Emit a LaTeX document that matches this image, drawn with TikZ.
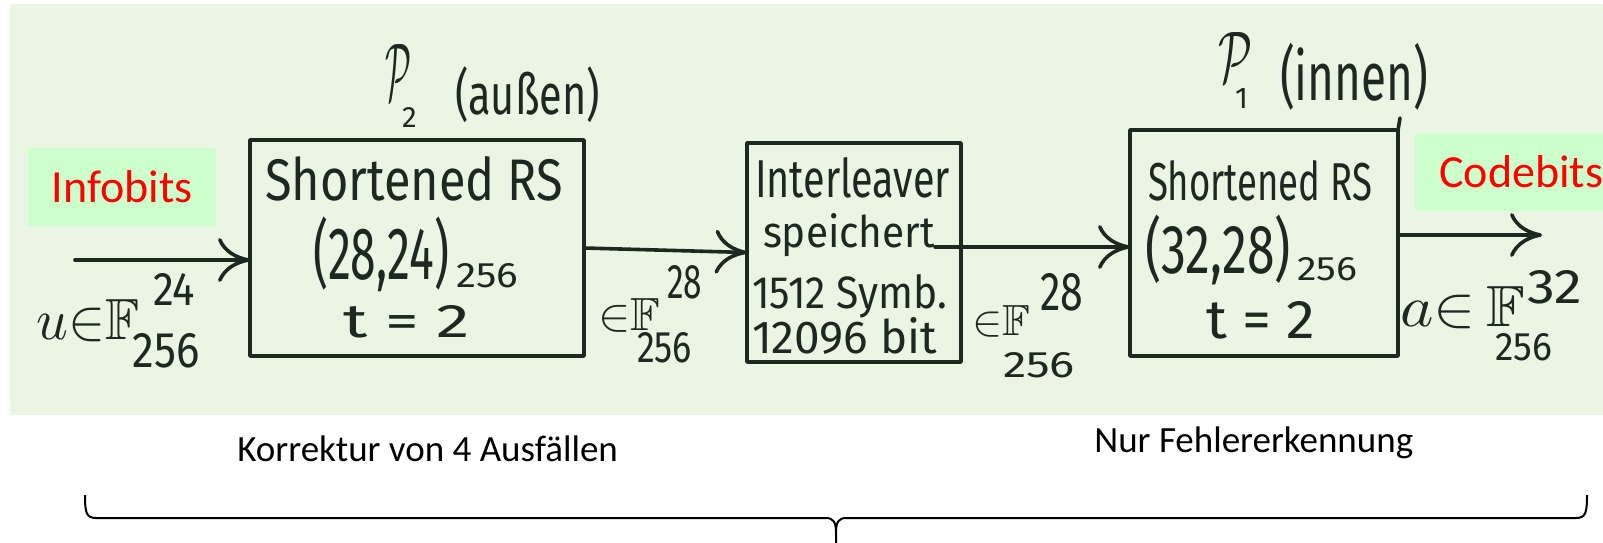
\documentclass[tikz,border=0pt]{standalone}
\usepackage{amssymb}
\usepackage{graphicx}
\usepackage{fontspec}
\usetikzlibrary{arrows.meta}
\newfontfamily\calibri{Carlito}
\newfontfamily\handfont{Fira Sans}
\definecolor{paper}{RGB}{235,245,227}
\definecolor{tagfill}{RGB}{204,255,204}
\definecolor{tagred}{RGB}{255,0,0}
\definecolor{ink}{RGB}{28,40,32}

\begin{document}
\begin{tikzpicture}[x=0.5pt, y=-0.5pt,
  hw/.style={inner sep=0pt, outer sep=0pt, text=ink, font=\handfont, anchor=base west},
  block/.style={draw=ink, line width=1.8pt, line join=round, rectangle, inner sep=0pt, outer sep=0pt},
  flow/.style={draw=ink, line width=1.8pt, line cap=round,
    -{Computer Modern Rightarrow[length=16pt,width=22pt]}},
  tag/.style={fill=tagfill, text=tagred, inner sep=0pt,
    font=\calibri\fontsize{23}{28}\selectfont},
  note/.style={font=\calibri\fontsize{18.5}{22}\selectfont, anchor=base west, inner sep=0pt},
  bracket/.style={draw=black, line width=1pt, line join=round}]

% page and paper sheet
\fill[white] (0,0) rectangle (1603,542);
\useasboundingbox (0,0) rectangle (1603,542);
\fill[paper] (10,4) rectangle (1603,415);

% tags
\node[tag, minimum width=94pt, minimum height=39pt] (infobits) at (122,187) {Infobits};
\node[tag, minimum width=100pt, minimum height=39pt, anchor=west] (codebits) at (1415,172) {\hspace*{6pt}Codebits};

% outer code
\node[block, minimum width=167pt, minimum height=108pt] (outer) at (417,248) {};
\node[hw] (outerA) at (265,200) {\resizebox{149pt}{22pt}{Shortened RS}};
\node[hw, anchor=south west] (outerB) at (313,292) {\resizebox*{68pt}{37.5pt}{(28,24)}};
\node[hw] (outerBsub) at (456,287) {\resizebox{31pt}{12pt}{256}};
\node[hw] (outerC) at (343,337) {\resizebox{63.5pt}{16pt}{t = 2}};
\node[hw] (outerP) at (385,100) {\resizebox{13pt}{28pt}{$\mathcal{P}$}};
\node[hw] (outerPsub) at (402,127) {\resizebox{!}{10pt}{2}};
\node[hw, anchor=south west] (outerName) at (455,123) {\resizebox*{72.5pt}{28pt}{(außen)}};

% interleaver
\node[block, minimum width=107pt, minimum height=109.5pt] (ilv) at (854,252.5) {};
\node[hw] (ilvA) at (755,197) {\resizebox{97.5pt}{20pt}{Interleaver}};
\node[hw] (ilvB) at (763,247) {\resizebox{86pt}{17pt}{speichert}};
\node[hw] (ilvC) at (752,308) {\resizebox{97.5pt}{17pt}{1512 Symb.}};
\node[hw] (ilvD) at (752,353) {\resizebox{92.5pt}{18pt}{12096 bit}};

% inner code
\node[block, minimum width=134pt, minimum height=113pt] (inner) at (1264,243) {};
\draw[ink, line width=1.8pt, line cap=round] (inner.north east) -- ++(2,-12);
\node[hw] (innerA) at (1148,200) {\resizebox{112pt}{20pt}{Shortened RS}};
\node[hw, anchor=south west] (innerB) at (1145,285) {\resizebox*{73pt}{35pt}{(32,28)}};
\node[hw] (innerBsub) at (1297,280) {\resizebox{30pt}{11.5pt}{256}};
\node[hw] (innerC) at (1206,338) {\resizebox{54.5pt}{18.5pt}{t = 2}};
\node[hw] (innerP) at (1218,82) {\resizebox{17pt}{25pt}{$\mathcal{P}$}};
\node[hw] (innerPsub) at (1235,108) {\resizebox{!}{10pt}{1}};
\node[hw, anchor=south west] (innerName) at (1280,110) {\resizebox*{74pt}{33.5pt}{(innen)}};

% symbol alphabets on the links
\node[hw] (inF) at (37,339) {\resizebox{51.5pt}{20pt}{$u{\in}\mathbb{F}$}};
\node[hw] (inFsup) at (153,305) {\resizebox{21pt}{16pt}{24}};
\node[hw] (inFsub) at (133,367) {\resizebox{33.5pt}{17pt}{256}};

\node[hw] (midF) at (598,330) {\resizebox{31pt}{16pt}{${\in}\mathbb{F}$}};
\node[hw] (midFsup) at (667,298) {\resizebox{17.5pt}{16.5pt}{28}};
\node[hw] (midFsub) at (637,362) {\resizebox{27.5pt}{15pt}{256}};

\node[hw] (ilvF) at (972,335) {\resizebox{29pt}{15pt}{${\in}\mathbb{F}$}};
\node[hw] (ilvFsup) at (1040,310) {\resizebox{21.5pt}{18.5pt}{28}};
\node[hw] (ilvFsub) at (1003,377) {\resizebox{36pt}{12.5pt}{256}};

\node[hw] (outF) at (1400,326) {\resizebox{62.5pt}{20pt}{$a{\in}\,\mathbb{F}$}};
\node[hw] (outFsup) at (1527,303) {\resizebox{27.5pt}{16.5pt}{32}};
\node[hw] (outFsub) at (1495,360) {\resizebox{28.5pt}{13.5pt}{256}};

% signal flow
\coordinate (src) at (75,260);
\coordinate (sink) at (1542,235);
\draw[flow] (src) -- (src -| outer.west);
\draw[flow] (outer.east) -- (ilv.west);
\draw[flow] (ilvB.base east) -- (ilvB.base east -| inner.west);
\draw[flow] (sink -| inner.east) -- (sink);

% captions
\node[note] (korr) at (237,461) {Korrektur von 4 Ausfällen};
\node[note] (nur) at (1094,452) {Nur Fehlererkennung};

% brace under the chain
\draw[bracket] (85,495) .. controls (85,512) and (86,518) .. (96,518) -- (826,518)
  .. controls (833,518) and (836,522) .. (836,532) -- (836,545);
\draw[bracket] (1587,495) .. controls (1587,512) and (1586,518) .. (1576,518) -- (846,518)
  .. controls (839,518) and (836,522) .. (836,532);
\end{tikzpicture}
\end{document}
